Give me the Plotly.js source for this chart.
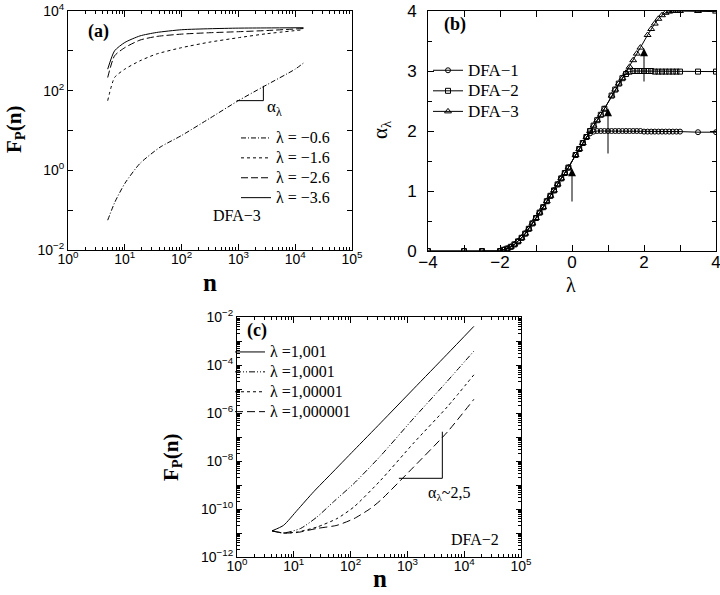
<!DOCTYPE html>
<html><head><meta charset="utf-8">
<script src="https://cdn.plot.ly/plotly-3.0.1.min.js"></script>
<style>body{margin:0;background:#fff}#chart{width:720px;height:595px}</style>
</head><body><div id="chart"></div>
<script>
// ---------- Panel (a): DFA-3, F_P(n) vs n ----------
const aN_low  = [5, 6.67, 10, 18.4, 41.7, 100, 316, 1000, 2754, 10000, 14800];
const aF_m06  = [0.056, 0.158, 0.468, 1.48, 3.8, 7.5, 20.4, 56.2, 126, 347, 525];
const aN_up   = [5, 6.6, 10, 18.5, 36, 100, 316, 1000, 3162, 14000];
const aF_m16  = [56, 214, 347, 562, 832, 1202, 1660, 2138, 2692, 3388];
const aF_m26  = [214, 750, 1202, 1862, 2291, 2630, 2851, 3020, 3236, 3631];
const aF_m36  = [347, 1000, 1622, 2371, 2884, 3388, 3590, 3715, 3758, 3802];
const aNames  = ['λ = −0.6', 'λ = −1.6', 'λ = −2.6', 'λ = −3.6'];
const aSlopeN = [933, 2754, 2754];
const aSlopeF = [56.2, 56.2, 132];

// ---------- Panel (b): alpha_lambda vs lambda ----------
const bLam1 = [-4,-3,-2.5,-2,-1.9,-1.8,-1.7,-1.6,-1.5,-1.4,-1.3,-1.2,-1.1,-1,-0.9,-0.8,-0.7,-0.6,-0.5,-0.4,-0.3,-0.2,-0.1,
  0.1,0.2,0.3,0.4,0.5,0.6,0.7,0.8,0.9,1,1.1,1.2,1.3,1.4,1.5,1.6,1.7,1.8,1.9,2,2.1,2.2,2.3,2.4,2.5,2.6,2.7,2.8,2.9,3,3.5,4];
const bDFA1 = [0,0,0,0,0.02,0.04,0.07,0.11,0.16,0.22,0.29,0.37,0.46,0.55,0.64,0.73,0.83,0.92,1.01,1.11,1.21,1.30,1.39,
  1.60,1.70,1.80,1.90,1.96,1.99,2.0,2.0,2.0,2.0,2.0,2.0,2.0,2.0,2.0,2.0,2.0,2.0,2.0,1.99,1.99,1.99,1.99,1.99,1.99,1.99,1.99,1.99,1.99,1.99,1.98,1.98];
const bLam2 = [-4,-3,-2.5,-2,-1.9,-1.8,-1.7,-1.6,-1.5,-1.4,-1.3,-1.2,-1.1,-1,-0.9,-0.8,-0.7,-0.6,-0.5,-0.4,-0.3,-0.2,-0.1,
  0.1,0.2,0.3,0.4,0.5,0.6,0.7,0.8,0.9,1.1,1.2,1.3,1.4,1.5,1.6,1.7,1.8,1.9,2,2.1,2.2,2.3,2.4,2.5,2.6,2.7,2.8,2.9,3,3.5,4];
const bDFA2 = [0,0,0,0,0.02,0.04,0.07,0.11,0.16,0.22,0.29,0.37,0.46,0.55,0.64,0.73,0.83,0.92,1.01,1.11,1.21,1.30,1.39,
  1.60,1.70,1.80,1.90,2.00,2.09,2.18,2.27,2.37,2.59,2.69,2.79,2.88,2.95,2.99,3.0,3.0,3.0,3.0,3.0,3.0,2.99,2.99,2.99,2.99,2.99,2.99,2.99,2.99,2.99,2.99];
const bLam3 = [-2.5,-2,-1.9,-1.8,-1.7,-1.6,-1.5,-1.4,-1.3,-1.2,-1.1,-1,-0.9,-0.8,-0.7,-0.6,-0.5,-0.4,-0.3,-0.2,-0.1,
  0.1,0.2,0.3,0.4,0.5,0.6,0.7,0.8,0.9,1.1,1.2,1.3,1.4,1.5,1.6,1.7,1.8,1.9,2.1,2.2,2.3,2.4,2.5,2.6,2.7,2.8,2.9,3,3.5,4];
const bDFA3 = [0,0,0.02,0.04,0.07,0.11,0.16,0.22,0.29,0.37,0.46,0.55,0.64,0.73,0.83,0.92,1.01,1.11,1.21,1.30,1.39,
  1.60,1.70,1.80,1.90,2.00,2.09,2.18,2.27,2.37,2.59,2.69,2.79,2.88,2.97,3.07,3.18,3.29,3.39,3.60,3.70,3.79,3.87,3.93,3.97,3.99,4.0,4.0,4.0,4.0,3.99];
const bNames = ['DFA−1', 'DFA−2', 'DFA−3'];
const bArrowLam  = [0, 1, 2];
const bArrowFrom = [0.8, 1.6, 2.8];
const bArrowTo   = [1.38, 2.38, 3.38];

// ---------- Panel (c): DFA-2, F_P(n) vs n ----------
const cN1 = [4.14, 6.61, 11.5, 22.4, 44.7, 115, 339, 1288, 5012, 14800];
const cF1 = [1.23e-11, 2.09e-11, 8.91e-11, 5.25e-10, 2.82e-9, 2.82e-8, 3.89e-7, 1.02e-5, 2.82e-4, 4.07e-3];
const cN2 = [4.14, 6.61, 13.2, 25.7, 50.1, 115, 339, 1288, 5012, 14800];
const cF2 = [1.23e-11, 1.0e-11, 1.55e-11, 4.68e-11, 2.0e-10, 1.17e-9, 1.66e-8, 6.03e-7, 2.09e-5, 3.8e-4];
const cN3 = [4.14, 6.61, 11.5, 25.7, 57.5, 115, 339, 1288, 5012, 14800];
const cF3 = [1.23e-11, 1.0e-11, 1.1e-11, 1.78e-11, 3.98e-11, 1.23e-10, 1.58e-9, 5.62e-8, 1.78e-6, 3.89e-5];
const cN4 = [4.14, 6.61, 11.5, 25.7, 57.5, 115, 224, 339, 1288, 5012, 14800];
const cF4 = [1.23e-11, 1.0e-11, 1.05e-11, 1.55e-11, 2.09e-11, 3.98e-11, 1.05e-10, 2.34e-10, 5.62e-9, 1.58e-7, 3.72e-6];
const cNames = ['λ =1,001', 'λ =1,0001', 'λ =1,00001', 'λ =1,000001'];
const cSlopeN = [708, 4121, 4121];
const cSlopeF = [1.9e-9, 1.9e-9, 1.66e-7];

// ---------- tick labels ----------
const nTickVals = [1, 10, 100, 1000, 10000, 100000];
const nTickText = ['10<sup>0</sup>','10<sup>1</sup>','10<sup>2</sup>','10<sup>3</sup>','10<sup>4</sup>','10<sup>5</sup>'];
const aYTickVals = [1e-2, 1e-1, 1, 10, 100, 1000, 10000];
const aYTickText = ['10<sup>−2</sup>','','10<sup>0</sup>','','10<sup>2</sup>','','10<sup>4</sup>'];
const cYTickVals = [1e-12,1e-11,1e-10,1e-9,1e-8,1e-7,1e-6,1e-5,1e-4,1e-3,1e-2];
const cYTickText = ['10<sup>−12</sup>','','10<sup>−10</sup>','','10<sup>−8</sup>','','10<sup>−6</sup>','','10<sup>−4</sup>','','10<sup>−2</sup>'];

const K = 'black';
const SERIF = 'Liberation Serif, Times New Roman, serif';
const SANS = 'Liberation Sans, Arial, sans-serif';
const ln = (dash) => ({color: K, width: 1, dash: dash, shape: 'spline', smoothing: 0.6});
const big = (s, px) => '<span style="font-size:' + px + 'px">' + s + '</span>';

const traces = [
  {x: aN_low, y: aF_m06, name: big(aNames[0], 16), mode: 'lines', line: ln('5px,2px,1px,2px'), xaxis: 'x', yaxis: 'y', legend: 'legend'},
  {x: aN_up, y: aF_m16, name: big(aNames[1], 16), mode: 'lines', line: ln('3px,3px'), xaxis: 'x', yaxis: 'y', legend: 'legend'},
  {x: aN_up, y: aF_m26, name: big(aNames[2], 16), mode: 'lines', line: ln('7px,3px'), xaxis: 'x', yaxis: 'y', legend: 'legend'},
  {x: aN_up, y: aF_m36, name: big(aNames[3], 16), mode: 'lines', line: ln('solid'), xaxis: 'x', yaxis: 'y', legend: 'legend'},
  {x: aSlopeN, y: aSlopeF, mode: 'lines', line: {color: K, width: 1}, showlegend: false, xaxis: 'x', yaxis: 'y', hoverinfo: 'skip'},

  {x: bLam1, y: bDFA1, name: big(bNames[0], 17), mode: 'lines+markers', line: {color: K, width: 1},
   marker: {symbol: 'circle-open', size: 5, color: K, line: {width: 1, color: K}}, xaxis: 'x2', yaxis: 'y2', legend: 'legend2'},
  {x: bLam2, y: bDFA2, name: big(bNames[1], 17), mode: 'lines+markers', line: {color: K, width: 1},
   marker: {symbol: 'square-open', size: 5, color: K, line: {width: 1, color: K}}, xaxis: 'x2', yaxis: 'y2', legend: 'legend2'},
  {x: bLam3, y: bDFA3, name: big(bNames[2], 17), mode: 'lines+markers', line: {color: K, width: 1},
   marker: {symbol: 'triangle-up-open', size: 6, color: K, line: {width: 1, color: K}}, xaxis: 'x2', yaxis: 'y2', legend: 'legend2'},

  {x: cN1, y: cF1, name: big(cNames[0], 16), mode: 'lines', line: ln('solid'), xaxis: 'x3', yaxis: 'y3', legend: 'legend3'},
  {x: cN2, y: cF2, name: big(cNames[1], 16), mode: 'lines', line: ln('6px,2px,1px,2px,1px,2px'), xaxis: 'x3', yaxis: 'y3', legend: 'legend3'},
  {x: cN3, y: cF3, name: big(cNames[2], 16), mode: 'lines', line: ln('3px,3px'), xaxis: 'x3', yaxis: 'y3', legend: 'legend3'},
  {x: cN4, y: cF4, name: big(cNames[3], 16), mode: 'lines', line: ln('8px,4px'), xaxis: 'x3', yaxis: 'y3', legend: 'legend3'},
  {x: cSlopeN, y: cSlopeF, mode: 'lines', line: {color: K, width: 1}, showlegend: false, xaxis: 'x3', yaxis: 'y3', hoverinfo: 'skip'}
];

function baseAxis(extra) {
  return Object.assign({
    showline: true, linecolor: K, linewidth: 1, mirror: 'ticks', ticks: 'inside', ticklen: 6,
    tickcolor: K, tickwidth: 1, showgrid: false, zeroline: false, automargin: false,
    ticklabeloverflow: 'allow',
    tickfont: {family: SANS, size: 14, color: K}
  }, extra);
}
const logMinor = {ticks: 'inside', ticklen: 3, tickcolor: K, dtick: 'D1', showgrid: false};

const P = (px) => px / 720;
const Q = (py) => 1 - py / 595;
const note = (text, px, py, size, extra) => Object.assign({
  text: text, xref: 'paper', yref: 'paper', x: P(px), y: Q(py), xanchor: 'center', yanchor: 'middle',
  showarrow: false, font: {family: SERIF, size: size, color: K}
}, extra || {});

const layout = {
  width: 720, height: 595, margin: {l: 0, r: 0, t: 0, b: 0},
  paper_bgcolor: 'white', plot_bgcolor: 'white', showlegend: true,
  font: {family: SERIF, color: K},
  xaxis: baseAxis({type: 'log', range: [0, 5], domain: [P(68), P(352)], anchor: 'y',
    tickmode: 'array', tickvals: nTickVals, ticktext: nTickText, minor: logMinor, ticklabelstandoff: -4}),
  yaxis: baseAxis({type: 'log', range: [-2, 4], domain: [Q(250), Q(11)], anchor: 'x',
    tickmode: 'array', tickvals: aYTickVals, ticktext: aYTickText, ticklen: 5}),
  xaxis2: baseAxis({range: [-4, 4], domain: [P(428), P(716)], anchor: 'y2', tickmode: 'linear', dtick: 2, tick0: 0,
    tickfont: {family: SANS, size: 17, color: K}, ticklabelstandoff: -4,
    minor: {ticks: 'inside', ticklen: 6, tickcolor: K, dtick: 1, tick0: 0}}),
  yaxis2: baseAxis({range: [0, 4], domain: [Q(251), Q(11)], anchor: 'x2', tickmode: 'linear', dtick: 1, tick0: 0,
    tickfont: {family: SANS, size: 17, color: K}, ticklabelstandoff: 7,
    minor: {ticks: 'inside', ticklen: 4, tickcolor: K, dtick: 0.5, tick0: 0}}),
  xaxis3: baseAxis({type: 'log', range: [0, 5], domain: [P(237), P(521)], anchor: 'y3',
    tickmode: 'array', tickvals: nTickVals, ticktext: nTickText, minor: logMinor, ticklabelstandoff: -4}),
  yaxis3: baseAxis({type: 'log', range: [-12, -2], domain: [Q(557), Q(317)], anchor: 'x3',
    tickmode: 'array', tickvals: cYTickVals, ticktext: cYTickText, ticklen: 5, minor: logMinor}),
  legend:  {x: P(236), y: Q(123), xanchor: 'left', yanchor: 'top', bgcolor: 'rgba(0,0,0,0)', borderwidth: 0,
    font: {family: SERIF, size: 13, color: K}, traceorder: 'normal', itemwidth: 30},
  legend2: {x: P(428), y: Q(55), xanchor: 'left', yanchor: 'top', bgcolor: 'rgba(0,0,0,0)', borderwidth: 0,
    font: {family: SERIF, size: 13.5, color: K}, traceorder: 'normal', itemwidth: 30},
  legend3: {x: P(230), y: Q(337), xanchor: 'left', yanchor: 'top', bgcolor: 'rgba(0,0,0,0)', borderwidth: 0,
    font: {family: SERIF, size: 13, color: K}, traceorder: 'normal', itemwidth: 30},
  annotations: [
    note('<b>(a)</b>', 98.5, 31, 18),
    note('α<sub>λ</sub>', 274, 108, 17),
    note('DFA−3', 237, 215, 16),
    note('<b>n</b>', 210, 282, 25),
    note('<b>F<sub>P</sub>(n)</b>', 15, 130, 21, {textangle: -90}),

    note('<b>(b)</b>', 455, 25, 18),
    note('λ', 571, 285, 20),
    note('α<sub>λ</sub>', 381, 130, 21, {textangle: -90}),

    note('<b>(c)</b>', 257, 330, 18),
    note('α<sub>λ</sub>~2,5', 449, 493, 16),
    note('DFA−2', 475, 539, 16),
    note('<b>n</b>', 380, 578, 25),
    note('<b>F<sub>P</sub>(n)</b>', 172, 458, 21, {textangle: -90})
  ].concat(bArrowLam.map((l, i) => ({
    x: l, y: bArrowTo[i], ax: l, ay: bArrowFrom[i], xref: 'x2', yref: 'y2', axref: 'x2', ayref: 'y2',
    showarrow: true, arrowhead: 2, arrowsize: 1.6, arrowwidth: 1, arrowcolor: K, text: ''
  })))
};

Plotly.newPlot('chart', traces, layout, {displayModeBar: false, staticPlot: true});
</script>
</body></html>
